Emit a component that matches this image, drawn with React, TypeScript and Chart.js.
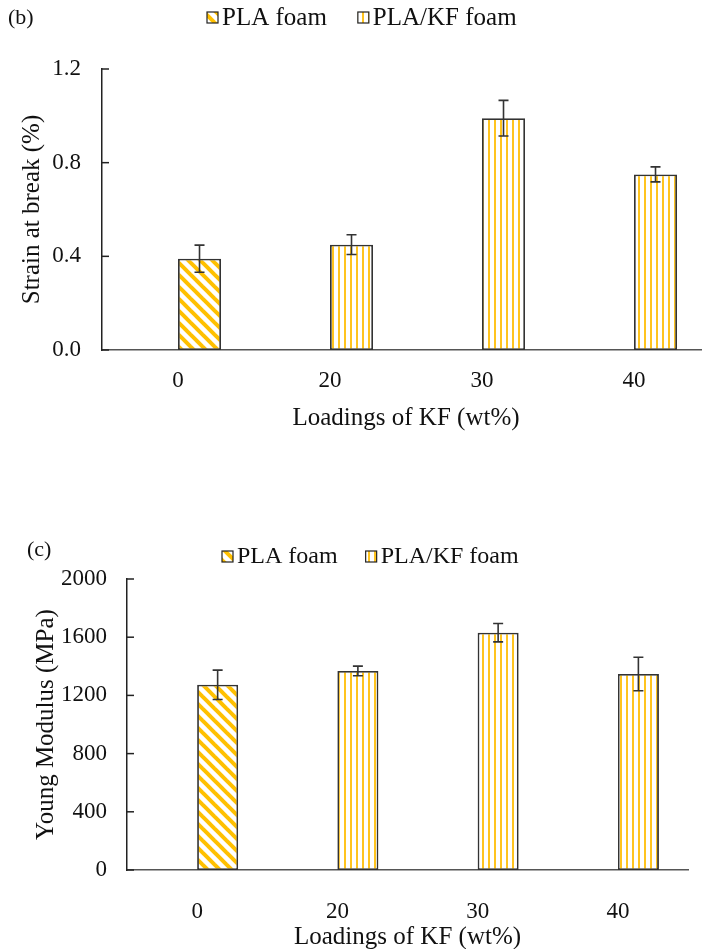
import React, { useEffect, useRef } from 'react';
import { Chart, registerables } from 'chart.js';

Chart.register(...registerables);

// ---------- data ----------
const categories = ['0', '20', '30', '40'];
const seriesNames = ['PLA foam', 'PLA/KF foam'];

const strainPLA = [0.39, null, null, null];
const strainPLAKF = [null, 0.45, 0.99, 0.75];
const strainErrPLA = [0.058, null, null, null];
const strainErrPLAKF = [null, 0.042, 0.076, 0.032];
const strainTicks = [0, 0.4, 0.8, 1.2];

const modulusPLA = [1273, null, null, null];
const modulusPLAKF = [null, 1368, 1631, 1347];
const modulusErrPLA = [101, null, null, null];
const modulusErrPLAKF = [null, 33, 63, 115];
const modulusTicks = [0, 400, 800, 1200, 1600, 2000];

const FONT = "'Liberation Serif', 'Times New Roman', serif";
const GOLD = '#FFC000';

function diagonalPattern(): CanvasPattern | string {
  const c = document.createElement('canvas');
  c.width = 12;
  c.height = 12;
  const g = c.getContext('2d');
  if (!g) return GOLD;
  g.fillStyle = '#ffffff';
  g.fillRect(0, 0, 12, 12);
  g.strokeStyle = GOLD;
  g.lineWidth = 4;
  for (const o of [-12, 0, 12]) {
    g.beginPath();
    g.moveTo(o - 4, -4);
    g.lineTo(o + 16, 16);
    g.stroke();
  }
  return g.createPattern(c, 'repeat') || GOLD;
}

function verticalPattern(): CanvasPattern | string {
  const c = document.createElement('canvas');
  c.width = 6;
  c.height = 6;
  const g = c.getContext('2d');
  if (!g) return GOLD;
  g.fillStyle = '#ffffff';
  g.fillRect(0, 0, 6, 6);
  g.fillStyle = '#FFC41F';
  g.fillRect(2, 0, 2, 6);
  return g.createPattern(c, 'repeat') || GOLD;
}

const decorPlugin = {
  id: 'decor',
  afterDatasetsDraw(chart: any) {
    const ctx = chart.ctx;
    const y = chart.scales.y;
    ctx.save();
    ctx.strokeStyle = '#333';
    ctx.lineWidth = 1.6;
    chart.data.datasets.forEach((ds: any, i: number) => {
      if (!ds.errors) return;
      const meta = chart.getDatasetMeta(i);
      meta.data.forEach((bar: any, j: number) => {
        const v = ds.data[j];
        const e = ds.errors[j];
        if (v == null || e == null) return;
        const x = bar.x;
        const yt = y.getPixelForValue(v + e);
        const yb = y.getPixelForValue(v - e);
        ctx.beginPath();
        ctx.moveTo(x, yt);
        ctx.lineTo(x, yb);
        ctx.moveTo(x - 5, yt);
        ctx.lineTo(x + 5, yt);
        ctx.moveTo(x - 5, yb);
        ctx.lineTo(x + 5, yb);
        ctx.stroke();
      });
    });
    ctx.restore();
  },
  afterDraw(chart: any, _args: any, opts: any) {
    const ctx = chart.ctx;
    const y = chart.scales.y;
    const area = chart.chartArea;
    ctx.save();
    // inward tick marks on the value axis
    ctx.strokeStyle = '#222';
    ctx.lineWidth = 1.5;
    y.ticks.forEach((_t: any, i: number) => {
      const py = y.getPixelForTick(i);
      ctx.beginPath();
      ctx.moveTo(area.left, py);
      ctx.lineTo(area.left + 7, py);
      ctx.stroke();
    });
    // panel label
    ctx.fillStyle = '#111';
    ctx.textBaseline = 'middle';
    ctx.textAlign = 'left';
    ctx.font = `22px ${FONT}`;
    ctx.fillText(opts.panel, opts.panelX, opts.panelY);
    // legend
    ctx.font = `${opts.legendSize}px ${FONT}`;
    let x = opts.legendX;
    const ly = opts.legendY;
    chart.data.datasets.forEach((ds: any) => {
      if (!ds.label) return;
      ctx.fillStyle = ds.backgroundColor;
      ctx.fillRect(x, ly - 6, 11, 11);
      ctx.strokeStyle = '#222';
      ctx.lineWidth = 1.2;
      ctx.strokeRect(x, ly - 6, 11, 11);
      ctx.fillStyle = '#111';
      ctx.fillText(ds.label, x + 15, ly);
      x += 15 + ctx.measureText(ds.label).width + opts.legendGap;
    });
    ctx.restore();
  },
};

interface PanelSpec {
  panel: string;
  panelX: number;
  panelY: number;
  legendX: number;
  legendY: number;
  legendSize: number;
  legendGap: number;
  width: number;
  height: number;
  padRight: number;
  padTop: number;
  yWidth: number;
  xHeight: number;
  yTickPad: number;
  yTitlePad: number;
  xTickPad: number;
  xTitlePad: number;
  catPct: number;
  yTitle: string;
  ticks: number[];
  decimals: number;
  pla: (number | null)[];
  plakf: (number | null)[];
  errPla: (number | null)[];
  errPlakf: (number | null)[];
}

function buildConfig(s: PanelSpec): any {
  const diag = diagonalPattern();
  const vert = verticalPattern();
  const common = {
    categoryPercentage: s.catPct,
    barPercentage: 1,
    borderColor: '#333',
    borderWidth: 1.8,
    borderSkipped: false,
  };
  return {
    type: 'bar',
    data: {
      labels: categories,
      datasets: [
        { label: '', data: [null, null, null, null], stack: 'pad', ...common },
        { label: seriesNames[0], data: s.pla, errors: s.errPla, stack: 'main', backgroundColor: diag, ...common },
        { label: seriesNames[1], data: s.plakf, errors: s.errPlakf, stack: 'main', backgroundColor: vert, ...common },
      ],
    },
    options: {
      animation: false,
      responsive: false,
      devicePixelRatio: 1,
      layout: { padding: { left: 0, right: s.padRight, top: s.padTop, bottom: 0 } },
      plugins: {
        legend: { display: false },
        tooltip: { enabled: false },
        decor: {
          panel: s.panel,
          panelX: s.panelX,
          panelY: s.panelY,
          legendX: s.legendX,
          legendY: s.legendY,
          legendSize: s.legendSize,
          legendGap: s.legendGap,
        },
      },
      scales: {
        x: {
          grid: { display: false, drawTicks: false },
          border: { display: true, color: '#555', width: 1.5 },
          ticks: { color: '#111', font: { family: FONT, size: 23 }, padding: s.xTickPad },
          title: {
            display: true,
            text: 'Loadings of KF (wt%)',
            color: '#111',
            font: { family: FONT, size: 25 },
            padding: { top: 0, bottom: s.xTitlePad },
          },
          afterFit: (scale: any) => {
            scale.height = s.xHeight;
          },
        },
        y: {
          stacked: false,
          min: s.ticks[0],
          max: s.ticks[s.ticks.length - 1],
          grid: { display: false, drawTicks: false },
          border: { display: true, color: '#222', width: 1.5 },
          ticks: {
            color: '#111',
            font: { family: FONT, size: 23 },
            padding: s.yTickPad,
            callback: (v: any) => Number(v).toFixed(s.decimals),
          },
          afterBuildTicks: (scale: any) => {
            scale.ticks = s.ticks.map((v) => ({ value: v }));
          },
          title: {
            display: true,
            text: s.yTitle,
            color: '#111',
            font: { family: FONT, size: 25 },
            padding: { top: s.yTitlePad, bottom: 0 },
          },
          afterFit: (scale: any) => {
            scale.width = s.yWidth;
          },
        },
      },
    },
    plugins: [decorPlugin],
  };
}

const specB: PanelSpec = {
  panel: '(b)',
  panelX: 8,
  panelY: 18,
  legendX: 207,
  legendY: 18,
  legendSize: 25,
  legendGap: 31,
  width: 740,
  height: 440,
  padRight: 30,
  padTop: 69,
  yWidth: 102,
  xHeight: 90,
  yTickPad: 21,
  yTitlePad: 17,
  xTickPad: 17,
  xTitlePad: 7,
  catPct: 0.566,
  yTitle: 'Strain at break (%)',
  ticks: strainTicks,
  decimals: 1,
  pla: strainPLA,
  plakf: strainPLAKF,
  errPla: strainErrPLA,
  errPlakf: strainErrPLAKF,
};

const specC: PanelSpec = {
  panel: '(c)',
  panelX: 27,
  panelY: 80,
  legendX: 222,
  legendY: 87,
  legendSize: 24,
  legendGap: 28,
  width: 702,
  height: 500,
  padRight: 14,
  padTop: 109,
  yWidth: 127,
  xHeight: 100,
  yTickPad: 20,
  yTitlePad: 31,
  xTickPad: 28,
  xTitlePad: 18,
  catPct: 0.585,
  yTitle: 'Young Modulus (MPa)',
  ticks: modulusTicks,
  decimals: 0,
  pla: modulusPLA,
  plakf: modulusPLAKF,
  errPla: modulusErrPLA,
  errPlakf: modulusErrPLAKF,
};

function ChartCanvas({ spec, top }: { spec: PanelSpec; top: number }) {
  const ref = useRef<HTMLCanvasElement | null>(null);
  useEffect(() => {
    if (!ref.current) return;
    const chart = new Chart(ref.current, buildConfig(spec));
    return () => chart.destroy();
  }, [spec]);
  return (
    <canvas
      ref={ref}
      width={spec.width}
      height={spec.height}
      style={{ position: 'absolute', left: 0, top, width: spec.width, height: spec.height }}
    />
  );
}

export default function App() {
  return (
    <div
      style={{
        position: 'fixed',
        left: 0,
        top: 0,
        width: 702,
        height: 949,
        overflow: 'hidden',
        background: '#ffffff',
      }}
    >
      <ChartCanvas spec={specB} top={0} />
      <ChartCanvas spec={specC} top={470} />
    </div>
  );
}
